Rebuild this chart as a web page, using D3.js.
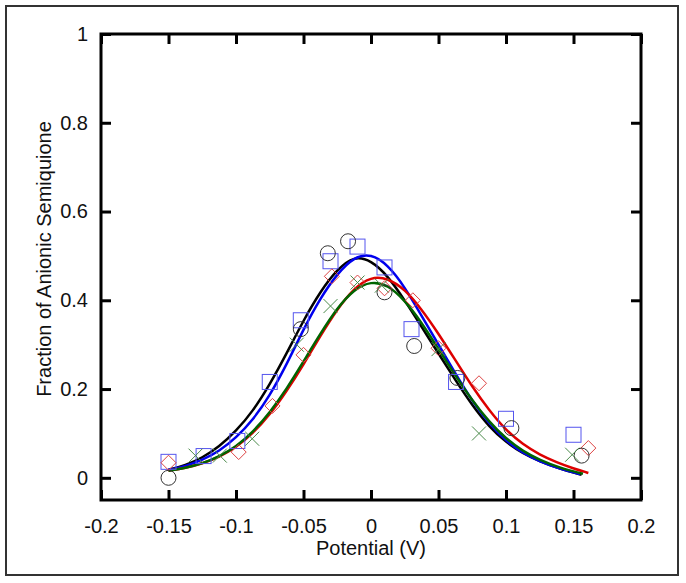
<!DOCTYPE html>
<html>
<head>
<meta charset="utf-8">
<script src="https://cdn.jsdelivr.net/npm/d3@7"></script>
<style>
body{margin:0;background:#fff;}
text{font-family:"Liberation Sans",Arial,sans-serif;fill:#111;}
</style>
</head>
<body>
<div class="canvas"></div>
<script>
// data: [potential (V), fraction]
const circles=[[-0.15,0.0],[-0.052,0.335],[-0.032,0.506],[-0.017,0.533],[0.010,0.418],[0.032,0.297],[0.064,0.225],[0.104,0.112],[0.156,0.05]];
const squares=[[-0.15,0.036],[-0.124,0.049],[-0.099,0.083],[-0.075,0.216],[-0.052,0.355],[-0.030,0.488],[-0.010,0.521],[0.010,0.474],[0.030,0.335],[0.063,0.216],[0.100,0.133],[0.150,0.097]];
const diamonds=[[-0.15,0.034],[-0.098,0.058],[-0.073,0.162],[-0.050,0.277],[-0.029,0.454],[-0.010,0.44],[0.010,0.427],[0.031,0.40],[0.050,0.292],[0.080,0.213],[0.161,0.067]];
const crosses=[[-0.130,0.05],[-0.112,0.05],[-0.088,0.088],[-0.055,0.30],[-0.030,0.387],[-0.010,0.44],[0.008,0.433],[0.050,0.29],[0.080,0.10],[0.149,0.052]];

// fitted curves
const blackFit=[[-0.15,0.018],[-0.1375,0.028],[-0.125,0.045],[-0.1125,0.07],[-0.1,0.105],[-0.0875,0.15],[-0.075,0.21],[-0.0625,0.28],[-0.05,0.355],[-0.0375,0.42],[-0.025,0.47],[-0.0125,0.50],[0,0.49],[0.0125,0.455],[0.025,0.40],[0.0375,0.34],[0.05,0.28],[0.0625,0.22],[0.075,0.163],[0.0875,0.115],[0.1,0.08],[0.1125,0.055],[0.125,0.037],[0.14,0.02],[0.156,0.007]];
const blueFit=[[-0.15,0.018],[-0.1375,0.026],[-0.125,0.04],[-0.1125,0.06],[-0.1,0.09],[-0.0875,0.13],[-0.075,0.185],[-0.0625,0.255],[-0.05,0.335],[-0.0375,0.405],[-0.025,0.46],[-0.0125,0.498],[0,0.505],[0.0125,0.48],[0.025,0.43],[0.0375,0.365],[0.05,0.30],[0.0625,0.235],[0.075,0.173],[0.0875,0.122],[0.1,0.083],[0.1125,0.056],[0.125,0.037],[0.14,0.02],[0.155,0.008]];
const redFit=[[-0.15,0.016],[-0.1375,0.022],[-0.125,0.032],[-0.1125,0.047],[-0.1,0.068],[-0.0875,0.10],[-0.075,0.142],[-0.0625,0.195],[-0.05,0.255],[-0.0375,0.32],[-0.025,0.38],[-0.0125,0.428],[0,0.453],[0.0125,0.45],[0.025,0.425],[0.0375,0.38],[0.05,0.325],[0.0625,0.265],[0.075,0.205],[0.0875,0.152],[0.1,0.107],[0.1125,0.075],[0.125,0.052],[0.1375,0.035],[0.15,0.021],[0.161,0.011]];
const greenFit=[[-0.15,0.016],[-0.1375,0.022],[-0.125,0.032],[-0.1125,0.048],[-0.1,0.07],[-0.0875,0.103],[-0.075,0.147],[-0.0625,0.20],[-0.05,0.262],[-0.0375,0.325],[-0.025,0.383],[-0.0125,0.425],[0,0.443],[0.0125,0.435],[0.025,0.40],[0.0375,0.35],[0.05,0.29],[0.0625,0.23],[0.075,0.174],[0.0875,0.126],[0.1,0.088],[0.1125,0.06],[0.125,0.04],[0.14,0.022],[0.157,0.009]];

const xTicks=[-0.2,-0.15,-0.1,-0.05,0,0.05,0.1,0.15,0.2];
const yTicks=[0,0.2,0.4,0.6,0.8,1];

const svg=d3.select('.canvas').append('svg')
  .attr('width',686).attr('height',583);

//outer frame
svg.append('rect').attr('x',6).attr('y',6).attr('width',672).attr('height',569)
  .attr('fill','none').attr('stroke','#333').attr('stroke-width',2);

const margin={top:34,left:101,right:45,bottom:83};
const w=686-margin.left-margin.right;
const h=583-margin.top-margin.bottom;
const graph=svg.append('g').attr('transform',`translate(${margin.left},${margin.top})`);

const x=d3.scaleLinear().domain([-0.2,0.2]).range([0,w]);
const y=d3.scaleLinear().domain([-0.05,1]).range([h,0]);

//fit lines
const line=d3.line().x(d=>x(d[0])).y(d=>y(d[1])).curve(d3.curveBasis);
[[blackFit,'#000'],[blueFit,'#0000ee'],[redFit,'#dd0000'],[greenFit,'#006400']].forEach(([d,c])=>{
  graph.append('path').datum(d).attr('d',line)
    .attr('fill','none').attr('stroke',c).attr('stroke-width',2.5);
});

//markers
graph.selectAll('.sq').data(squares).enter().append('rect')
  .attr('x',d=>x(d[0])-7.5).attr('y',d=>y(d[1])-7.5).attr('width',15).attr('height',15)
  .attr('fill','none').attr('stroke','#5555ee').attr('stroke-width',1);
graph.selectAll('.di').data(diamonds).enter().append('path')
  .attr('d','M0,-7.5L7.5,0L0,7.5L-7.5,0Z')
  .attr('transform',d=>`translate(${x(d[0])},${y(d[1])})`)
  .attr('fill','none').attr('stroke','#dd4444').attr('stroke-width',1);
graph.selectAll('.ci').data(circles).enter().append('circle')
  .attr('cx',d=>x(d[0])).attr('cy',d=>y(d[1])).attr('r',7.5)
  .attr('fill','none').attr('stroke','#333').attr('stroke-width',1);
graph.selectAll('.cr').data(crosses).enter().append('path')
  .attr('d','M-7,-7L7,7M-7,7L7,-7')
  .attr('transform',d=>`translate(${x(d[0])},${y(d[1])})`)
  .attr('fill','none').attr('stroke','#4a8a4a').attr('stroke-width',1);

//axes: ticks pointing inwards on all four sides
const styleAxis=g=>{
  g.select('.domain').remove();
  g.selectAll('line').attr('stroke','#000').attr('stroke-width',3);
  g.selectAll('text').attr('font-size',20).attr('fill','#111')
    .attr('font-family','"Liberation Sans",Arial,sans-serif');
};
graph.append('g').attr('transform',`translate(0,${h})`)
  .call(d3.axisBottom(x).tickValues(xTicks).tickSizeInner(-10).tickSizeOuter(0).tickPadding(19).tickFormat(d=>String(d)))
  .call(styleAxis);
graph.append('g')
  .call(d3.axisTop(x).tickValues(xTicks).tickSizeInner(-10).tickSizeOuter(0).tickFormat(''))
  .call(styleAxis);
graph.append('g')
  .call(d3.axisLeft(y).tickValues(yTicks).tickSizeInner(-10).tickSizeOuter(0).tickPadding(13).tickFormat(d=>String(d)))
  .call(styleAxis);
graph.append('g').attr('transform',`translate(${w},0)`)
  .call(d3.axisRight(y).tickValues(yTicks).tickSizeInner(-10).tickSizeOuter(0).tickFormat(''))
  .call(styleAxis);

//box
graph.append('rect').attr('width',w).attr('height',h)
  .attr('fill','none').attr('stroke','#000').attr('stroke-width',3);

//titles
svg.append('text').attr('x',371).attr('y',555).attr('text-anchor','middle')
  .attr('font-size',20).text('Potential (V)');
svg.append('text').attr('transform','translate(51,259) rotate(-90)').attr('text-anchor','middle')
  .attr('font-size',20).text('Fraction of Anionic Semiquione');
</script>
</body>
</html>
